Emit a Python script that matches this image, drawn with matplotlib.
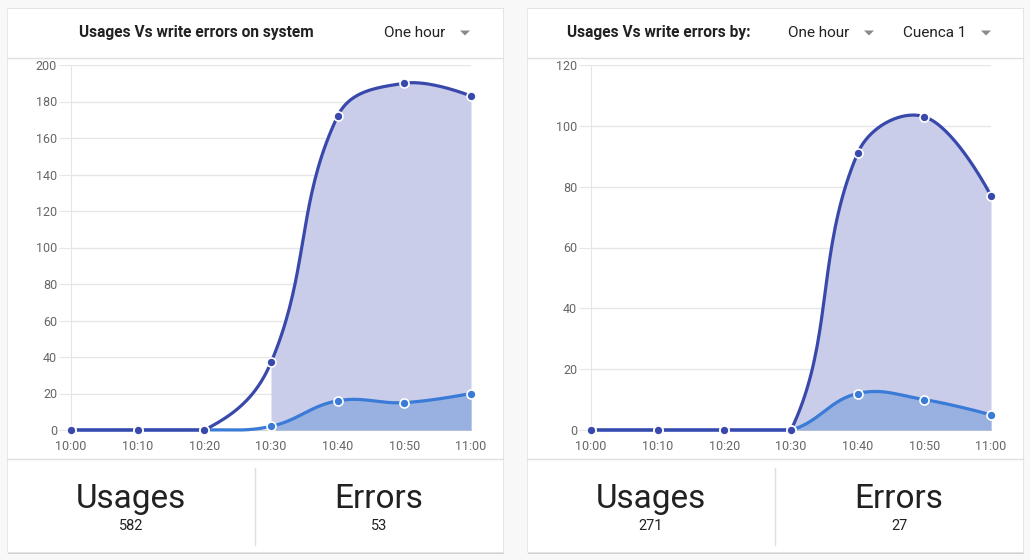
import matplotlib
matplotlib.use('Agg')
import matplotlib.pyplot as plt
from matplotlib.patches import Rectangle, Polygon
from matplotlib.lines import Line2D
import numpy as np

plt.rcParams['font.family'] = ['Roboto', 'DejaVu Sans']

# data
times = ['10:00', '10:10', '10:20', '10:30', '10:40', '10:50', '11:00']
minutes = [0, 10, 20, 30, 40, 50, 60]

sys_usages = [0, 0, 0, 37, 172, 190, 183]
sys_errors = [0, 0, 0, 2, 16, 15, 20]
sys_total_usages = 582
sys_total_errors = 53

by_usages = [0, 0, 0, 0, 91, 103, 77]
by_errors = [0, 0, 0, 0, 12, 10, 5]
by_total_usages = 271
by_total_errors = 27

W, H = 1030, 560
USAGE_LINE = '#3949ab'
USAGE_FILL = '#c9cde9'
ERR_LINE = '#3a7bd8'
ERR_FILL = '#98b1e0'
GRID = '#e6e6e6'
TICK = '#666666'


def fx(x):
    return x / W


def fy(y):
    return 1 - y / H


def spline(ax, xs, ys, tension=0.4, n=40):
    # bezier spline like chart.js, control points computed in pixel space
    pts = ax.transData.transform(np.column_stack([xs, ys]))
    k = len(pts)
    cp_prev = pts.copy()
    cp_next = pts.copy()
    for i in range(1, k - 1):
        p0, p1, p2 = pts[i - 1], pts[i], pts[i + 1]
        d01 = np.hypot(*(p1 - p0))
        d12 = np.hypot(*(p2 - p1))
        s01 = d01 / (d01 + d12) if d01 + d12 else 0
        s12 = d12 / (d01 + d12) if d01 + d12 else 0
        cp_prev[i] = p1 - tension * s01 * (p2 - p0)
        cp_next[i] = p1 + tension * s12 * (p2 - p0)
    out = []
    t = np.linspace(0, 1, n)[:, None]
    for i in range(k - 1):
        a, b, c, d = pts[i], cp_next[i], cp_prev[i + 1], pts[i + 1]
        seg = (1 - t) ** 3 * a + 3 * (1 - t) ** 2 * t * b + 3 * (1 - t) * t ** 2 * c + t ** 3 * d
        out.append(seg if i == 0 else seg[1:])
    out = np.vstack(out)
    data = ax.transData.inverted().transform(out)
    return data[:, 0], np.clip(data[:, 1], 0, None)


fig = plt.figure(figsize=(W / 100, H / 100), dpi=100)
fig.patch.set_facecolor('#f8f8f8')


def card(x0, title_parts, usages, errors, tot_u, tot_e, ymax, ystep):
    x1 = x0 + 496
    # shadow + card
    fig.patches.append(Rectangle((fx(x0 + 1), fy(554)), fx(496), 546 / H,
                                 transform=fig.transFigure, facecolor='#d0d0d0', edgecolor='none', zorder=-3))
    fig.patches.append(Rectangle((fx(x0), fy(552)), fx(496), 544 / H,
                                 transform=fig.transFigure, facecolor='white', edgecolor='#e4e4e4',
                                 linewidth=0.6, zorder=-2))
    for xs, ys in [([x0, x1], [58, 58]), ([x0, x1], [459, 459]), ([x0 + 248, x0 + 248], [468, 545])]:
        fig.lines.append(Line2D([fx(v) for v in xs], [fy(v) for v in ys], transform=fig.transFigure,
                                color='#e0e0e0', linewidth=1, zorder=-1))

    # header text
    for txt, x, bold in title_parts:
        fig.text(fx(x0 + x), fy(33), txt, ha='left', va='center',
                 fontsize=11.2 if bold else 11, fontweight='bold' if bold else 'normal',
                 color='#212121')
    # footer
    fig.text(fx(x0 + 124), fy(499), 'Usages', ha='center', va='center', fontsize=24, color='#212121')
    fig.text(fx(x0 + 124), fy(526), str(tot_u), ha='center', va='center', fontsize=10.5, color='#212121')
    fig.text(fx(x0 + 372), fy(499), 'Errors', ha='center', va='center', fontsize=24, color='#212121')
    fig.text(fx(x0 + 372), fy(526), str(tot_e), ha='center', va='center', fontsize=10.5, color='#212121')

    ax_left = x0 + 64
    ax = fig.add_axes([fx(ax_left), fy(430), fx(400), 365 / H])
    ax.set_zorder(2)
    ax.set_xlim(0, 60)
    ax.set_ylim(0, ymax)
    ax.set_facecolor('none')
    for s in ['top', 'right']:
        ax.spines[s].set_visible(False)
    ax.spines['left'].set_color(GRID)
    ax.spines['bottom'].set_color('#d0d0d0')
    ax.set_yticks(np.arange(0, ymax + 1, ystep))
    ax.set_xticks(minutes)
    ax.set_xticklabels(times)
    ax.tick_params(axis='y', length=9, color=GRID, labelsize=9, labelcolor=TICK, pad=1)
    ax.tick_params(axis='x', length=0, labelsize=9, labelcolor=TICK, pad=7)
    ax.grid(axis='y', color=GRID, linewidth=1)
    ax.set_axisbelow(True)

    ux, uy = spline(ax, minutes, usages)
    ex, ey = spline(ax, minutes, errors)
    ax.fill_between(ux, 0, uy, where=ux >= 30, color=USAGE_FILL, linewidth=0, zorder=2)
    ax.fill_between(ex, 0, ey, where=ex >= 30, color=ERR_FILL, linewidth=0, zorder=3)
    ax.plot(ex, ey, color=ERR_LINE, linewidth=2.3, zorder=4, clip_on=False, solid_capstyle='round')
    ax.plot(ux, uy, color=USAGE_LINE, linewidth=2.3, zorder=5, clip_on=False, solid_capstyle='round')
    ax.plot(minutes, errors, 'o', color=ERR_LINE, markersize=6.5, markeredgecolor='white',
            markeredgewidth=1.2, zorder=6, clip_on=False)
    ax.plot(minutes, usages, 'o', color=USAGE_LINE, markersize=6.5, markeredgecolor='white',
            markeredgewidth=1.2, zorder=7, clip_on=False)
    return ax


def arrow(x, y):
    fig.patches.append(Polygon([(fx(x - 5), fy(y - 2.5)), (fx(x + 5), fy(y - 2.5)), (fx(x), fy(y + 2.5))],
                               closed=True, transform=fig.transFigure, facecolor='#8a8a8a',
                               edgecolor='none', zorder=3))


card(7, [('Usages Vs write errors on system', 72, True), ('One hour', 377, False)],
     sys_usages, sys_errors, sys_total_usages, sys_total_errors, 200, 20)
arrow(465, 33)

card(527, [('Usages Vs write errors by:', 40, True), ('One hour', 261, False), ('Cuenca 1', 376, False)],
     by_usages, by_errors, by_total_usages, by_total_errors, 120, 20)
arrow(869, 33)
arrow(986, 33)

fig.savefig('out.png', dpi=100, facecolor=fig.get_facecolor())
